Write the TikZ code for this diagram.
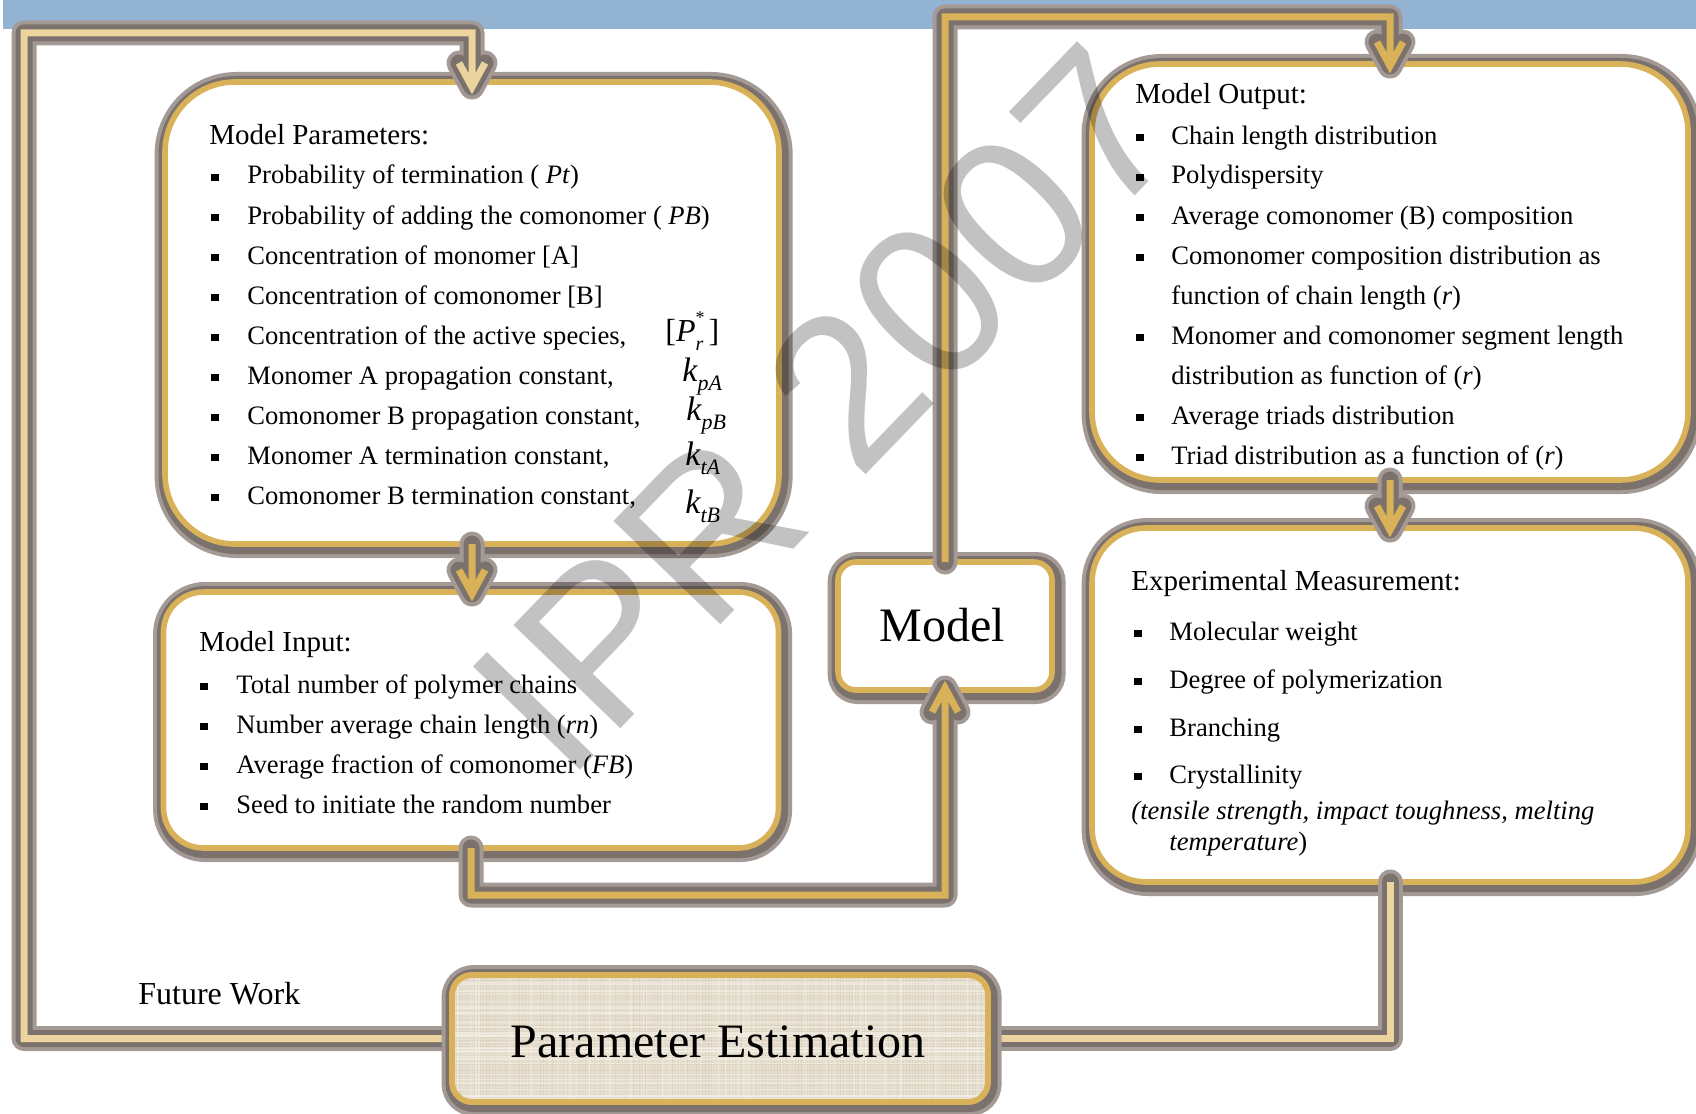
\documentclass[tikz,border=0pt]{standalone}
\usepackage{fontspec}
\setmainfont{Liberation Serif}
\newfontfamily\wmfont{Liberation Sans}
\usetikzlibrary{calc}

\definecolor{band}{HTML}{93B3D2}
\definecolor{gold}{HTML}{D9B158}
\definecolor{beige}{HTML}{ECD49E}
\definecolor{haloout}{HTML}{A39A96}
\definecolor{haloin}{HTML}{7B716D}
\definecolor{linen}{HTML}{E6DECE}
\definecolor{linendark}{HTML}{B5A88F}
\definecolor{linenlight}{HTML}{F7F3EC}

% square list bullet followed by the gap up to the item text
\newcommand\sqbullet[1][18pt]{\makebox[#1][l]{\rule[1.3pt]{3.6pt}{3.6pt}}}
% rate constant k with an italic subscript
\newcommand\rate[1]{{\fontsize{17}{17}\selectfont\itshape k}\raisebox{-0.3em}{\fontsize{11}{11}\selectfont\itshape #1}}

\tikzset{
  halo/.style={
    preaction={draw=haloout, line width=12.5pt, line join=round, line cap=round},
    preaction={draw=haloin, line width=8.5pt, line join=round, line cap=round}},
  conn/.style={halo, draw=#1, line width=3.5pt, line join=miter},
  boxlook/.style={rounded corners=#1, draw=gold, line width=2.8pt, fill=white,
    preaction={draw=haloout, line width=12pt,
      transform canvas={shift={(0.8pt,-1pt)}}},
    preaction={draw=haloin, line width=8pt,
      transform canvas={shift={(0.8pt,-1pt)}}}},
  panel/.style={rectangle, boxlook=#1, inner sep=0pt, outer sep=0pt},
  head/.style={anchor=base west, inner sep=0pt, font=\fontsize{14.5}{17}\selectfont},
  item/.style={anchor=base west, inner sep=0pt, font=\fontsize{13.3}{16}\selectfont},
  sym/.style={anchor=base west, inner sep=0pt, font=\fontsize{16}{16}\selectfont},
  big/.style={inner sep=0pt, font=\fontsize{24}{28}\selectfont},
}

\begin{document}
\begin{tikzpicture}[x=0.5pt, y=-0.5pt]
\useasboundingbox (0,0) rectangle (1696,1113);
\fill[white] (0,0) rectangle (1696,1113);

% header band
\fill[band] (3,0) rectangle (1696,29);

% panels
\node[panel=35pt, minimum width=307pt, minimum height=231pt] (mp) at (472,313) {};
\node[panel=20pt, minimum width=307.5pt, minimum height=128pt] (mi) at (471,720) {};
\node[panel=9pt, minimum width=107pt, minimum height=64pt] (md) at (945,626) {};
\node[panel=34pt, minimum width=298pt, minimum height=208pt] (mo) at (1390,272) {};
\node[panel=27pt, minimum width=298pt, minimum height=177pt] (ex) at (1390,705) {};
% parameter estimation frame, painted after the connectors that run under it
\node[rectangle, inner sep=0pt, outer sep=0pt, minimum width=268pt, minimum height=63.5pt] (pe) at (720,1038.5) {};

% connectors
\coordinate (fl) at (24,33);
\coordinate (t1) at ($(mp.north)+(0,5)$);
\draw[conn=beige] (pe.west) -| (fl) -| ($(t1)+(0,-4)$)
  ($(t1)+(-13,-24)$) -- (t1) -- ($(t1)+(13,-24)$);

\coordinate (t2) at ($(mp.south |- mi.north)+(0,2)$);
\draw[conn=gold] (mp.south) -- ($(t2)+(0,-4)$)
  ($(t2)+(-13,-24)$) -- (t2) -- ($(t2)+(13,-24)$);

\coordinate (t3) at ($(md.south)+(0,-2)$);
\draw[conn=gold] (mi.south) |- ($(md.south)+(0,205)$) -- ($(t3)+(0,4)$)
  ($(t3)+(-13,24)$) -- (t3) -- ($(t3)+(13,24)$);

\coordinate (t4) at ($(mo.north)+(0,2)$);
\draw[conn=gold] (md.north) |- ($(mo.north)+(0,-47)$) -- ($(t4)+(0,-4)$)
  ($(t4)+(-13,-24)$) -- (t4) -- ($(t4)+(13,-24)$);

\coordinate (t5) at ($(mo.south |- ex.north)+(0,2)$);
\draw[conn=gold] (mo.south) -- ($(t5)+(0,-4)$)
  ($(t5)+(-13,-24)$) -- (t5) -- ($(t5)+(13,-24)$);

\draw[conn=beige] (ex.south) |- (pe.east);

% parameter estimation panel with a woven linen fill
\path[boxlook=10pt, fill=linen] (pe.south west) rectangle (pe.north east);
\begin{scope}
  \clip[rounded corners=10pt] (pe.south west) rectangle (pe.north east);
  \pgfmathsetseed{11}
  \foreach \yy in {974,977,...,1106}{
    \pgfmathsetmacro{\op}{0.22*rnd}
    \draw[linendark, line width=0.45pt, opacity=\op] (440,\yy) -- (1000,\yy);
  }
  \foreach \xx in {450,453,...,990}{
    \pgfmathsetmacro{\op}{0.22*rnd}
    \draw[linendark, line width=0.45pt, opacity=\op] (\xx,970) -- (\xx,1110);
  }
  \foreach \i in {1,...,40}{
    \pgfmathsetmacro{\yy}{972+134*rnd}
    \draw[linenlight, line width=0.6pt, opacity=0.5] (440,\yy) -- (1000,\yy);
  }
  \foreach \i in {1,...,60}{
    \pgfmathsetmacro{\xx}{448+544*rnd}
    \draw[linenlight, line width=0.6pt, opacity=0.4] (\xx,970) -- (\xx,1110);
  }
\end{scope}
\draw[gold, line width=2.8pt, rounded corners=10pt] (pe.south west) rectangle (pe.north east);
\node[big] (pe-t) at (718,1042) {Parameter Estimation};

% model
\node[big] (md-t) at (942,625) {Model};

% model parameters
\node[head] (mp-h) at (209,144) {Model Parameters:};
\foreach \yy/\tx [count=\i] in {
  184/{Probability of termination ( \textit{Pt})},
  224/{Probability of adding the comonomer ( \textit{PB})},
  264/{Concentration of monomer [A]},
  304/{Concentration of comonomer [B]},
  344/{Concentration of the active species,},
  384/{Monomer A propagation constant,},
  424/{Comonomer B propagation constant,},
  464/{Monomer A termination constant,},
  504/{Comonomer B termination constant,}}
  \node[item] (mp-\i) at (211,\yy) {\sqbullet\tx};
\node[sym] (mp-s) at (665,341) {[\textit{P}\rlap{\raisebox{0.55em}{\fontsize{9}{9}\selectfont *}}\raisebox{-0.3em}{\fontsize{10}{10}\selectfont\itshape r}\,]};
\node[sym] (mp-k1) at (682,381) {\rate{pA}};
\node[sym] (mp-k2) at (686,420) {\rate{pB}};
\node[sym] (mp-k3) at (685,465) {\rate{tA}};
\node[sym] (mp-k4) at (685,513) {\rate{tB}};

% model input
\node[head] (mi-h) at (199,651) {Model Input:};
\foreach \yy/\tx [count=\i] in {
  693/{Total number of polymer chains},
  733/{Number average chain length (\textit{rn})},
  773/{Average fraction of comonomer (\textit{FB})},
  813/{Seed to initiate the random number}}
  \node[item] (mi-\i) at (200,\yy) {\sqbullet\tx};

% model output
\node[head] (mo-h) at (1135,104) {Model Output:};
\foreach \yy/\tx [count=\i] in {
  144/{Chain length distribution},
  184/{Polydispersity},
  224/{Average comonomer (B) composition},
  264/{Comonomer composition distribution as},
  344/{Monomer and comonomer segment length},
  424/{Average triads distribution},
  464/{Triad distribution as a function of (\textit{r})}}
  \node[item] (mo-\i) at (1136,\yy) {\sqbullet[17.5pt]\tx};
\node[item] (mo-c1) at (1171,304) {function of chain length (\textit{r})};
\node[item] (mo-c2) at (1171,384) {distribution as function of (\textit{r})};

% experimental measurement
\node[head] (ex-h) at (1131,590) {Experimental Measurement:};
\foreach \yy/\tx [count=\i] in {
  640/{Molecular weight},
  688/{Degree of polymerization},
  736/{Branching},
  783/{Crystallinity}}
  \node[item] (ex-\i) at (1134,\yy) {\sqbullet[17.5pt]\tx};
\node[item] (ex-n1) at (1131,819) {\textit{(tensile strength, impact toughness, melting}};
\node[item] (ex-n2) at (1169,850) {\textit{temperature})};

% loop label
\node[anchor=base west, inner sep=0pt, font=\fontsize{16}{19}\selectfont] (fw) at (138,1004) {Future Work};

% watermark
\node[inner sep=0pt, font=\wmfont\fontsize{108}{108}\selectfont, text=black,
      text opacity=0.24, rotate=46] (wm) at (826,409) {IPR 2007};
\end{tikzpicture}
\end{document}
